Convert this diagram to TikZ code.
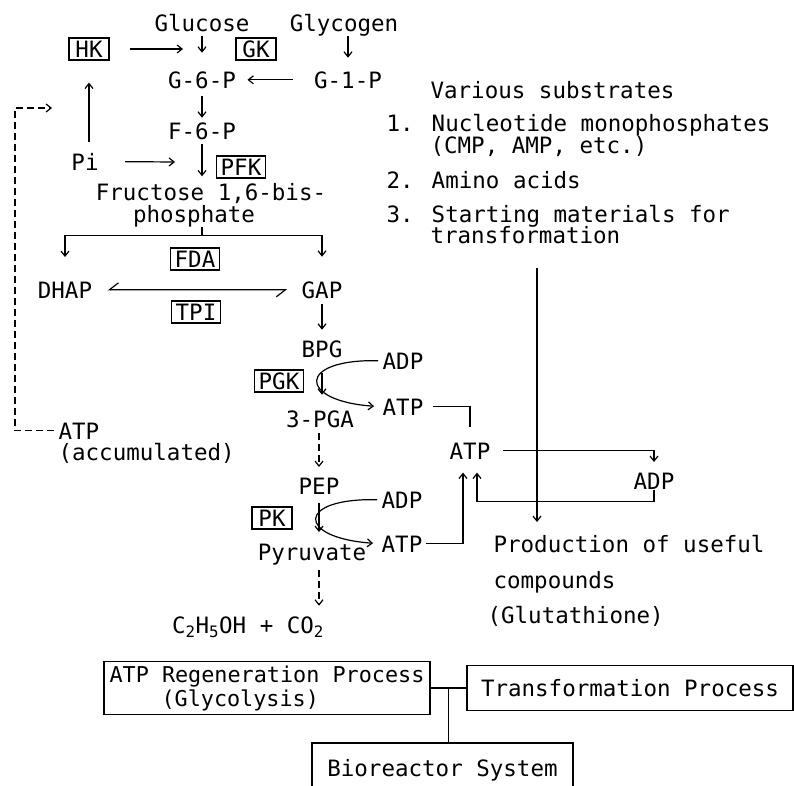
\documentclass[tikz,border=0pt]{standalone}
\usepackage{fontspec}
\setmainfont{DejaVu Sans Mono}
\usetikzlibrary{arrows.meta, positioning, calc}

\begin{document}
\begin{tikzpicture}[x=1pt, y=-1pt,
    font=\fontsize{22.5}{24}\selectfont,
    line width=1.2pt,
    >={Straight Barb[length=5pt, width=8pt]},
    lbl/.style={anchor=base, inner sep=0pt},
    lblw/.style={anchor=base west, inner sep=0pt},
    enz/.style={draw, inner xsep=4pt, inner ysep=3pt, minimum width=40pt, text height=16pt, text depth=0pt},
    proc/.style={draw, inner sep=4pt},
    fb/.style={->, dash pattern=on 7pt off 4pt},
    eq/.style={{Straight Barb[harpoon, swap, length=9pt, width=14pt, line width=1.2pt]}-{Straight Barb[harpoon, swap, length=9pt, width=14pt, line width=1.2pt]}}]

    \useasboundingbox (0,0) rectangle (794,785);

    % glycolysis
    \node[lbl] (glucose) at (202,31) {Glucose};
    \node[lbl] (glycogen) at (344,31) {Glycogen};
    \node[enz] (HK) at (89,49) {HK};
    \node[enz] (GK) at (256,49) {GK};
    \node[lbl] (g6p) at (202,88) {G-6-P};
    \node[lbl] (g1p) at (348,88) {G-1-P};
    \node[lbl] (f6p) at (202,139) {F-6-P};
    \node[lbl] (pi) at (85,170) {Pi};
    \node[enz] (PFK) at (241,167) {PFK};
    \node[lbl] (fru) at (211,200) {Fructose 1,6-bis-};
    \node[lbl] (phos) at (194,222) {phosphate};
    \node[enz] (FDA) at (195,259) {FDA};
    \node[lbl] (dhap) at (65,298) {DHAP};
    \node[lbl] (gap) at (322,298) {GAP};
    \node[enz] (TPI) at (196,312) {TPI};
    \node[lbl] (bpg) at (322,357) {BPG};
    \node[enz] (PGK) at (279,381) {PGK};
    \node[lbl] (pga) at (320,427) {3-PGA};
    \node[lbl] (adpa) at (403,369) {ADP};
    \node[lbl] (atpa) at (403,415) {ATP};
    \node[lbl] (pep) at (319,494) {PEP};
    \node[enz] (PK) at (272,518) {PK};
    \node[lbl] (adpb) at (402,508) {ADP};
    \node[lbl] (atpb) at (402,552) {ATP};
    \node[lbl] (pyr) at (312,560) {Pyruvate};
    \node[lbl] (eth) at (248,633) {C\textsubscript{2}H\textsubscript{5}OH + CO\textsubscript{2}};
    \node[lblw] (atpacc) at (58,439) {ATP};
    \node[lblw] (acc) at (58,460) {(accumulated)};

    % ATP cycle
    \node[lbl] (atpc) at (470,459) {ATP};
    \node[lbl] (adpr) at (654,489) {ADP};

    % substrates and products
    \node[lblw] (various) at (430,98) {Various substrates};
    \node[lblw] (n1) at (386,131) {1. Nucleotide monophosphates};
    \node[lblw] (n1b) at (430,153) {(CMP, AMP, etc.)};
    \node[lblw] (n2) at (386,188) {2. Amino acids};
    \node[lblw] (n3) at (386,222) {3. Starting materials for};
    \node[lblw] (n3b) at (430,243) {transformation};
    \node[lblw] (prod) at (493,552) {Production of useful};
    \node[lblw] (prodb) at (493,588) {compounds};
    \node[lblw] (prodc) at (487,623) {(Glutathione)};

    % system boxes
    \node[proc, minimum width=326pt, minimum height=53pt, align=left, font=\fontsize{21.8}{24}\selectfont] (glyc) at (267,688) {ATP Regeneration Process\\\hspace*{52pt}(Glycolysis)};
    \node[proc, minimum width=326pt, minimum height=45pt] (trans) at (630,688) {Transformation Process};
    \node[proc, minimum width=261pt, minimum height=54pt] (bio) at (442.5,770) {Bioreactor System};

    \coordinate (hkin) at (183,49);
    \coordinate (piin) at (175,162);
    \coordinate (subout) at (537,268);
    \coordinate (prodin) at (537,522);
    \coordinate (fbturn) at (15,108);
    \coordinate (fbhead) at (52,108);

    \draw[->, shorten <=4pt, shorten >=18pt] (glucose.south) -- (glucose.south |- g6p.north);
    \draw[->, shorten >=13pt] (glycogen.south -| g1p.north) -- (g1p.north);
    \draw[->, shorten <=21pt, shorten >=11pt] (g1p.west) -- (g6p.east);
    \draw[->, shorten <=20pt] (HK.east) -- (hkin);
    \draw[->, shorten <=7pt, shorten >=4pt] (g6p.south) -- (f6p.north);
    \draw[->, shorten <=10pt, shorten >=22pt] (pi.north -| HK.south) -- (HK.south);
    \draw[->, shorten <=26pt] (pi.east) -- (piin);
    \draw[->, shorten <=4pt, shorten >=6pt] (f6p.south) -- (f6p.south |- fru.north);
    \draw (phos.south -| f6p.south) -- ++(0,8) coordinate (split);
    \draw[->] (split) -| ([yshift=24pt]dhap.north);
    \draw[->] (split) -| ([yshift=24pt]gap.north);
    \draw[eq, shorten <=15pt, shorten >=14pt] (dhap.east) -- (gap.west);
    \draw[->, shorten <=5pt, shorten >=10pt] (gap.south) -- (bpg.north);
    \draw[->, shorten <=15pt, shorten >=15pt] (bpg.south) -- (bpg.south |- pga.north);
    \draw[->, shorten <=4pt, shorten >=8pt] (adpa.west) .. controls +(-85,-2) and +(-85,-6) .. (atpa.west);
    \draw[fb, shorten <=5pt, shorten >=10pt] (pga.south -| pep.north) -- (pep.north);
    \draw[->, shorten <=8pt, shorten >=11pt] (pep.south) -- (pep.south |- pyr.north);
    \draw[->, shorten <=4pt, shorten >=8pt] (adpb.west) .. controls +(-85,-2) and +(-85,-6) .. (atpb.west);
    \draw[fb, shorten <=5pt, shorten >=10pt] (pep.south |- pyr.south) -- (pep.south |- eth.north);

    \draw[shorten <=9pt] (atpa.east) -| ([yshift=15pt]atpc.north);
    \draw[->, shorten <=3pt] (atpb.east) -| ([xshift=-7pt, yshift=-13pt]atpc.south);
    \draw[->, shorten <=12pt] (atpc.east) -| ([yshift=10pt]adpr.north);
    \draw[->] (adpr.south) -- ++(0,12) -| ([xshift=7pt, yshift=-13pt]atpc.south);
    \draw[->] (subout) -- (prodin);

    \draw[fb] ([xshift=-4pt]atpacc.west) -| (fbturn) -- (fbhead);

    \draw (glyc.east) -- (trans.west);
    \draw ($(glyc.east)!0.5!(trans.west)$) coordinate (jn) -- (jn |- bio.north);
\end{tikzpicture}
\end{document}
